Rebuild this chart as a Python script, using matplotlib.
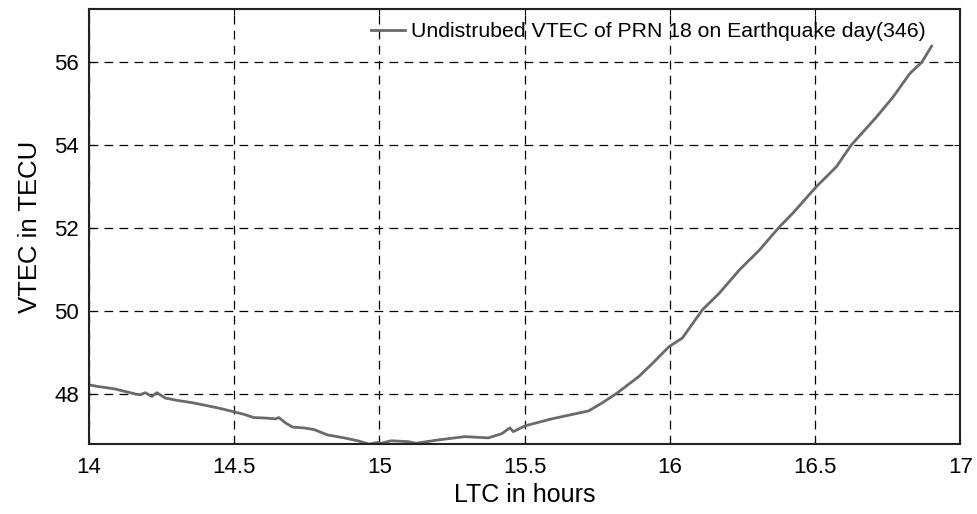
import matplotlib
matplotlib.use("Agg")
import matplotlib.pyplot as plt

hours = [14.000, 14.031, 14.090, 14.124, 14.159, 14.176, 14.194, 14.217, 14.234, 14.263,
         14.308, 14.355, 14.390, 14.446, 14.493, 14.533, 14.568, 14.603, 14.643, 14.654,
         14.677, 14.701, 14.741, 14.775, 14.822, 14.879, 14.925, 14.965, 14.994, 15.006,
         15.040, 15.098, 15.127, 15.202, 15.294, 15.375, 15.421, 15.449, 15.461, 15.501,
         15.594, 15.720, 15.766, 15.818, 15.893, 15.939, 15.997, 16.043, 16.112, 16.170,
         16.239, 16.308, 16.377, 16.423, 16.504, 16.573, 16.625, 16.711, 16.769, 16.826,
         16.867, 16.901]
vtec = [48.21, 48.17, 48.11, 48.05, 47.99, 47.97, 48.02, 47.93, 48.02, 47.89,
        47.83, 47.78, 47.73, 47.65, 47.57, 47.50, 47.42, 47.41, 47.39, 47.42,
        47.29, 47.19, 47.17, 47.13, 47.00, 46.93, 46.86, 46.78, 46.82, 46.80,
        46.86, 46.84, 46.80, 46.88, 46.96, 46.93, 47.03, 47.17, 47.08, 47.22,
        47.39, 47.58, 47.77, 48.01, 48.41, 48.72, 49.13, 49.34, 50.02, 50.42,
        50.98, 51.46, 52.02, 52.35, 52.99, 53.47, 54.00, 54.67, 55.16, 55.72,
        55.99, 56.38]
xticks = [14, 14.5, 15, 15.5, 16, 16.5, 17]
xticklabels = ["14", "14.5", "15", "15.5", "16", "16.5", "17"]
yticks = [48, 50, 52, 54, 56]
series_label = "Undistrubed VTEC of PRN 18 on Earthquake day(346)"

plt.rcParams['font.family'] = ['Liberation Sans', 'DejaVu Sans']
fig = plt.figure(figsize=(9.77, 5.14), dpi=100)
ax = fig.add_axes([0.091, 0.136, 0.892, 0.846])
ax.plot(hours, vtec, color='#6a6a6a', lw=2.0, label=series_label)
ax.set_xlim(14, 17)
ax.set_ylim(46.78, 57.27)
ax.set_xticks(xticks)
ax.set_xticklabels(xticklabels)
ax.set_yticks(yticks)
ax.grid(True, color='black', linestyle=(0, (7, 5)), lw=0.9)
ax.tick_params(direction='in', labelsize=16, length=4, top=True, right=True)
ax.tick_params(axis='x', pad=9)
ax.tick_params(axis='y', pad=7)
for s in ax.spines.values():
    s.set_linewidth(1.5)
    s.set_color('#222222')
ax.set_xlabel("LTC in hours", fontsize=18, labelpad=4)
ax.set_ylabel("VTEC in TECU", fontsize=18.5, labelpad=9)
leg = ax.legend(loc='upper right', frameon=False, fontsize=15.3, handlelength=1.6,
                handletextpad=0.3, borderaxespad=0.2, bbox_to_anchor=(0.975, 1.0))
fig.savefig("out.png", dpi=100)
